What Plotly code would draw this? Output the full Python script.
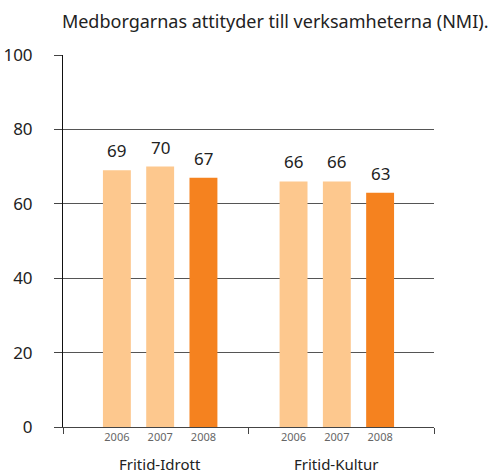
import plotly.graph_objects as go

# Daten aus der Grafik
gruppen = ["Fritid-Idrott", "Fritid-Kultur"]
jahre = ["2006", "2007", "2008"]
werte = {
    "2006": [69, 66],
    "2007": [70, 66],
    "2008": [67, 63],
}
farben = {"2006": "#FDC88E", "2007": "#FDC88E", "2008": "#F5821F"}

schritt = 0.245  # Abstand der Balken innerhalb einer Gruppe (x-Einheiten)

fig = go.Figure()

tick_pos = []
tick_txt = []
for k, jahr in enumerate(jahre):
    xs = [g + (k - 1) * schritt for g in range(len(gruppen))]
    tick_pos += xs
    tick_txt += [jahr] * len(xs)
    fig.add_trace(go.Bar(
        x=xs, y=werte[jahr], width=0.158,
        marker=dict(color=farben[jahr], line=dict(width=0)),
        showlegend=False, hoverinfo="y",
    ))
    # Wert über dem Balken, etwas abgesetzt
    for x, v in zip(xs, werte[jahr]):
        fig.add_annotation(
            x=x, y=v, yanchor="bottom", yshift=6, text=str(v),
            showarrow=False, font=dict(size=17, color="#222222"))

# Gruppennamen unter den Jahreszahlen
for g, name in enumerate(gruppen):
    fig.add_annotation(
        x=g, y=0, xref="x", yref="paper", yanchor="top",
        yshift=-25, text=name, showarrow=False,
        font=dict(size=15, color="#222222"))

fig.update_xaxes(
    range=[-0.55, 1.55], tickvals=tick_pos, ticktext=tick_txt,
    ticks="", tickfont=dict(size=11, color="#666666"),
    showline=True, linecolor="#444444", linewidth=1,
    showgrid=False, zeroline=False, automargin=False,
    minor=dict(tickvals=[-0.55, 0.5, 1.55], ticks="outside",
               ticklen=6, tickcolor="#444444", showgrid=False))

fig.update_yaxes(
    range=[0, 100], tickvals=[0, 20, 40, 60, 80, 100],
    ticks="outside", ticklen=8, tickcolor="#444444",
    ticklabelstandoff=18, automargin=False,
    tickfont=dict(size=17, color="#222222"),
    showline=True, linecolor="#111111", linewidth=1,
    showgrid=True, gridcolor="#555555", gridwidth=1, zeroline=False)

fig.update_layout(
    width=499, height=474,
    margin=dict(l=63, r=65, t=55, b=47),
    plot_bgcolor="white", paper_bgcolor="white",
    font=dict(family="Noto Sans"),
    title=dict(text="Medborgarnas attityder till verksamheterna (NMI).",
               x=0.124, xref="container", xanchor="left",
               y=0.954, yref="container", yanchor="middle",
               font=dict(size=18, color="#222222")),
)

# Seitenrand des Browsers entfernen, damit die Grafik bei 0,0 beginnt
fig.write_html("out.html", config={"displayModeBar": False},
               post_script="document.body.style.margin='0px';")
